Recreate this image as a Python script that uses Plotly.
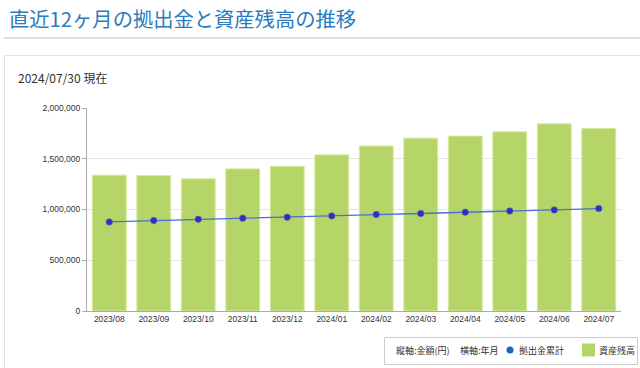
import plotly.graph_objects as go

months = ["2023/08", "2023/09", "2023/10", "2023/11", "2023/12", "2024/01",
          "2024/02", "2024/03", "2024/04", "2024/05", "2024/06", "2024/07"]
asset_balance = [1338000, 1334000, 1302000, 1400000, 1425000, 1538000,
                 1625000, 1703000, 1723000, 1765000, 1844000, 1798000]
contrib_total = [878000, 891000, 904000, 914000, 924000, 937000,
                 950000, 960000, 973000, 986000, 996000, 1009000]
y_ticks = [0, 500000, 1000000, 1500000, 2000000]

title_text = "直近12ヶ月の拠出金と資産残高の推移"
date_text = "2024/07/30 現在"
legend_vaxis_text = "縦軸:金額(円)"
legend_haxis_text = "横軸:年月"
name_contrib = "拠出金累計"
name_asset = "資産残高"

W, H = 640, 368
L, R, T, B = 87, 621, 108, 311


def px(x):
    return (x - L) / (R - L)


def py(y):
    return (B - y) / (B - T)


fig = go.Figure()
fig.add_trace(go.Bar(
    x=months, y=asset_balance, name=name_asset, width=0.76,
    marker=dict(color="#b5d568", line=dict(color="#d6e99c", width=1)),
    showlegend=False, hoverinfo="x+y"))
fig.add_trace(go.Scatter(
    x=months, y=contrib_total, mode="lines+markers", name=name_contrib,
    line=dict(color="#4a6fd6", width=1.4),
    marker=dict(size=6.5, color="#2430d0", line=dict(color="#8c6080", width=0.6)),
    showlegend=False))

font_small = dict(family="Liberation Sans, Arial, sans-serif", size=8.5, color="#333")
fig.update_layout(
    width=W, height=H,
    margin=dict(l=L, r=W - R, t=T, b=H - B, pad=0),
    paper_bgcolor="white", plot_bgcolor="white",
    bargap=0.24,
    xaxis=dict(type="category", range=[-0.5, 11.5], autorange=False,
               showline=True, linecolor="#aaaaaa", linewidth=1,
               ticks="", showgrid=False, tickfont=font_small, fixedrange=True),
    yaxis=dict(range=[0, 2000000], tickvals=y_ticks, tickformat=",",
               showline=True, linecolor="#aaaaaa", linewidth=1,
               ticks="outside", ticklen=4, tickcolor="#aaaaaa",
               gridcolor="#e4e4e4", gridwidth=1, zeroline=False,
               tickfont=font_small, fixedrange=True),
    showlegend=False,
)

shapes = [
    # title underline
    dict(type="line", xref="paper", yref="paper", x0=px(4), x1=px(640),
         y0=py(38), y1=py(38), line=dict(color="#dddddd", width=2)),
    # panel frame
    dict(type="rect", xref="paper", yref="paper", x0=px(4.5), x1=px(660),
         y0=py(55.5), y1=py(380), line=dict(color="#e2e2e2", width=1),
         layer="below"),
    # legend box
    dict(type="rect", xref="paper", yref="paper", x0=px(384.5), x1=px(637.5),
         y0=py(337.5), y1=py(364.5), line=dict(color="#cccccc", width=1),
         fillcolor="white"),
    # legend circle
    dict(type="circle", xref="paper", yref="paper", x0=px(506.5), x1=px(513.5),
         y0=py(346.5), y1=py(353.5), line=dict(color="#1e5fc0", width=0),
         fillcolor="#1e5fc0"),
    # legend square
    dict(type="rect", xref="paper", yref="paper", x0=px(582), x1=px(595),
         y0=py(343.5), y1=py(356.5), line=dict(width=0), fillcolor="#b5d568"),
]

jp = "Noto Sans CJK JP, sans-serif"
legend_font = dict(family=jp, size=9, color="#333333")


def ann(text, x, y, font):
    return dict(text=text, xref="paper", yref="paper", x=px(x), y=py(y),
                xanchor="left", yanchor="middle", showarrow=False, font=font)


annotations = [
    ann(title_text, 7, 18, dict(family=jp, size=20.3, color="#2b7bbd")),
    ann(date_text, 16, 77, dict(family=jp, size=12, color="#333333")),
    ann(legend_vaxis_text, 394, 350, legend_font),
    ann(legend_haxis_text, 458, 350, legend_font),
    ann(name_contrib, 517, 350, legend_font),
    ann(name_asset, 597, 350, legend_font),
]
fig.update_layout(shapes=shapes, annotations=annotations)

fig.write_html("out.html", config=dict(displayModeBar=False),
               post_script="document.body.style.margin='0px';document.body.style.padding='0px';")
